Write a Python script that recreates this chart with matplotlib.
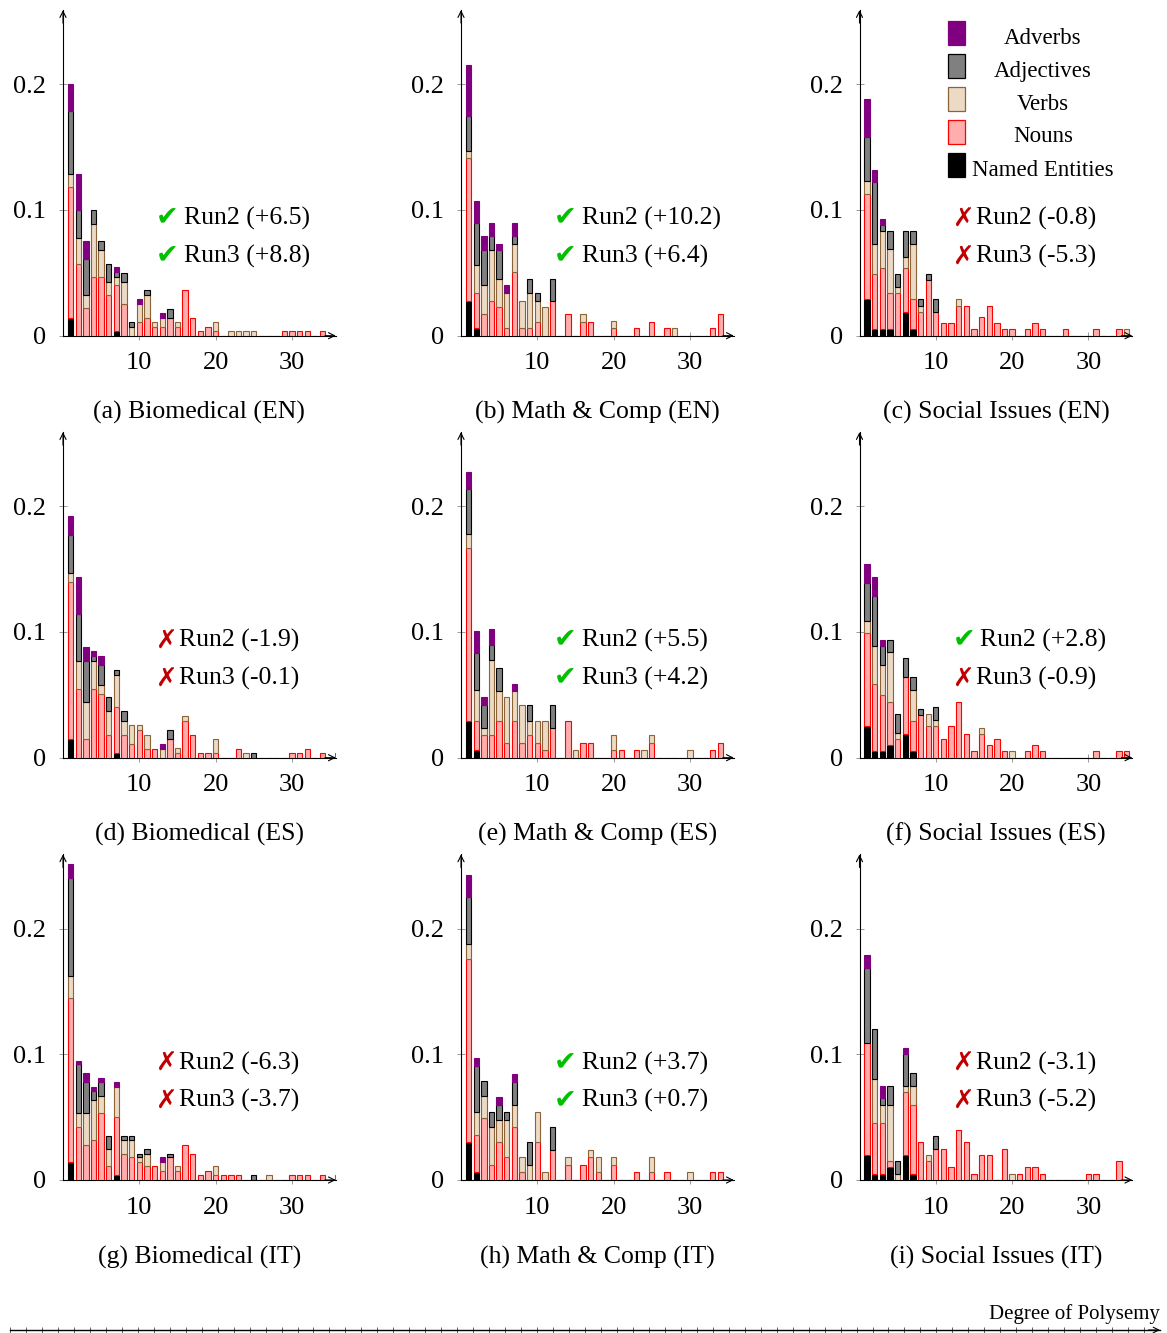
import matplotlib
matplotlib.use('Agg')
import matplotlib.pyplot as plt
from matplotlib.patches import Rectangle
import numpy as np

plt.rcParams['font.family'] = ['Liberation Serif', 'DejaVu Sans']

# ---------------- data ----------------
degrees = list(range(1, 37))
categories = ['Named Entities', 'Nouns', 'Verbs', 'Adjectives', 'Adverbs']
legend_order = ['Adverbs', 'Adjectives', 'Verbs', 'Nouns', 'Named Entities']

captions = ['(a) Biomedical (EN)', '(b) Math & Comp (EN)', '(c) Social Issues (EN)',
            '(d) Biomedical (ES)', '(e) Math & Comp (ES)', '(f) Social Issues (ES)',
            '(g) Biomedical (IT)', '(h) Math & Comp (IT)', '(i) Social Issues (IT)']
run2_delta = [6.5, 10.2, -0.8, -1.9, 5.5, 2.8, -6.3, 3.7, -3.1]
run3_delta = [8.8, 6.4, -5.3, -0.1, 4.2, -0.9, -3.7, 0.7, -5.2]

# (a) Biomedical EN
bio_en_ne = {1: .014, 7: .004}
bio_en_noun = {1: .104, 2: .057, 3: .022, 4: .047, 5: .047, 6: .032, 7: .036, 8: .025, 10: .011, 11: .014,
               12: .007, 13: .007, 14: .014, 15: .007, 16: .036, 17: .014, 18: .004, 19: .007, 20: .004,
               29: .004, 30: .004, 31: .004, 32: .004, 34: .004}
bio_en_verb = {1: .011, 2: .021, 3: .010, 4: .042, 5: .021, 6: .011, 7: .007, 8: .018, 9: .007, 10: .014,
               11: .018, 12: .004, 13: .007, 15: .004, 20: .007, 22: .004, 23: .004, 24: .004, 25: .004}
bio_en_adj = {1: .050, 2: .022, 3: .029, 4: .011, 5: .007, 6: .014, 7: .004, 8: .007, 9: .004, 11: .004, 14: .007}
bio_en_adv = {1: .021, 2: .029, 3: .014, 7: .004, 10: .004, 13: .004}

# (b) Math & Comp EN
math_en_ne = {1: .028, 2: .006}
math_en_noun = {1: .113, 2: .028, 3: .017, 4: .028, 5: .023, 6: .006, 7: .051, 8: .006, 9: .006, 10: .011,
                12: .028, 14: .017, 16: .011, 17: .011, 20: .006, 23: .006, 25: .011, 27: .006, 33: .006, 34: .017}
math_en_verb = {1: .006, 2: .022, 3: .023, 4: .040, 5: .022, 6: .028, 7: .022, 8: .022, 9: .028, 10: .017,
                11: .023, 16: .006, 20: .006, 28: .006}
math_en_adj = {1: .028, 2: .034, 3: .028, 4: .011, 5: .023, 7: .006, 9: .011, 10: .006, 12: .017}
math_en_adv = {1: .040, 2: .017, 3: .011, 4: .011, 5: .005, 6: .006, 7: .011}

# (c) Social Issues EN
soc_en_ne = {1: .029, 2: .005, 3: .005, 4: .005, 6: .019, 7: .005}
soc_en_noun = {1: .084, 2: .044, 3: .049, 4: .029, 5: .034, 6: .035, 7: .024, 8: .019, 9: .044, 10: .019,
               11: .010, 12: .010, 13: .024, 14: .024, 15: .005, 16: .015, 17: .024, 18: .010, 19: .005,
               20: .005, 22: .005, 23: .010, 24: .005, 27: .005, 31: .005, 34: .005}
soc_en_verb = {1: .010, 2: .024, 3: .029, 4: .035, 5: .005, 6: .009, 7: .044, 8: .005, 13: .005, 35: .005}
soc_en_adj = {1: .035, 2: .049, 3: .005, 4: .014, 5: .010, 6: .020, 7: .010, 8: .005, 9: .005, 10: .010}
soc_en_adv = {1: .030, 2: .010, 3: .005}

# (d) Biomedical ES
bio_es_ne = {1: .015, 7: .004}
bio_es_noun = {1: .125, 2: .055, 3: .015, 4: .055, 5: .051, 6: .018, 7: .036, 8: .018, 9: .011, 10: .022,
               11: .007, 12: .007, 14: .015, 15: .004, 16: .029, 17: .018, 18: .004, 19: .004, 20: .004,
               23: .007, 30: .004, 31: .004, 32: .007, 34: .004}
bio_es_verb = {1: .007, 2: .022, 3: .029, 4: .022, 5: .007, 6: .019, 7: .026, 8: .011, 9: .015, 10: .004,
               11: .011, 13: .007, 15: .004, 16: .004, 20: .011, 24: .004, 36: .004}
bio_es_adj = {1: .030, 2: .037, 3: .033, 4: .004, 5: .016, 6: .011, 7: .004, 8: .008, 14: .007, 25: .004}
bio_es_adv = {1: .015, 2: .030, 3: .011, 4: .004, 5: .007, 13: .004}

# (e) Math & Comp ES
math_es_ne = {1: .029, 2: .006}
math_es_noun = {1: .138, 2: .023, 3: .018, 4: .018, 5: .029, 6: .012, 7: .029, 8: .012, 9: .018, 10: .012,
                11: .006, 12: .024, 14: .029, 16: .012, 17: .012, 20: .006, 21: .006, 23: .006, 25: .012,
                33: .006, 34: .012}
math_es_verb = {1: .011, 2: .025, 3: .006, 4: .060, 5: .024, 6: .036, 7: .024, 8: .030, 9: .011, 10: .017,
                11: .023, 15: .006, 20: .012, 24: .006, 25: .006, 30: .006}
math_es_adj = {1: .036, 2: .029, 3: .018, 4: .012, 5: .018, 9: .013, 12: .018}
math_es_adv = {1: .013, 2: .018, 3: .006, 4: .012, 7: .006}

# (f) Social Issues ES
soc_es_ne = {1: .025, 2: .005, 3: .005, 4: .010, 6: .019, 7: .005}
soc_es_noun = {1: .074, 2: .054, 3: .045, 4: .034, 5: .015, 6: .045, 7: .024, 8: .034, 9: .025, 10: .025,
               11: .015, 12: .025, 13: .044, 14: .019, 15: .005, 16: .019, 17: .010, 18: .015, 19: .005,
               22: .005, 23: .010, 24: .005, 31: .005, 34: .005, 35: .005}
soc_es_verb = {1: .010, 2: .030, 3: .024, 4: .040, 5: .005, 7: .025, 9: .010, 10: .005, 16: .005, 20: .005}
soc_es_adj = {1: .030, 2: .040, 3: .015, 4: .010, 5: .015, 6: .015, 7: .010, 8: .005, 10: .010}
soc_es_adv = {1: .015, 2: .015, 3: .005}

# (g) Biomedical IT
bio_it_ne = {1: .014, 7: .004}
bio_it_noun = {1: .131, 2: .042, 3: .028, 4: .032, 5: .053, 6: .011, 7: .046, 8: .021, 9: .018, 10: .014,
               11: .011, 12: .011, 13: .007, 14: .018, 15: .007, 16: .028, 17: .021, 18: .004, 19: .007,
               20: .004, 21: .004, 22: .004, 23: .004, 30: .004, 31: .004, 32: .004, 34: .004}
bio_it_verb = {1: .017, 2: .011, 3: .025, 4: .032, 5: .014, 6: .014, 7: .024, 8: .011, 9: .014, 10: .004,
               11: .010, 13: .007, 15: .004, 20: .007, 27: .004, 36: .004}
bio_it_adj = {1: .078, 2: .039, 3: .025, 4: .007, 5: .011, 6: .010, 8: .003, 9: .003, 10: .003, 11: .004,
              14: .003, 25: .004}
bio_it_adv = {1: .011, 2: .003, 3: .007, 4: .003, 5: .003, 7: .004, 13: .004}

# (h) Math & Comp IT
math_it_ne = {1: .030, 2: .006}
math_it_noun = {1: .146, 2: .030, 3: .049, 4: .012, 5: .030, 6: .018, 7: .042, 8: .006, 10: .030, 12: .024,
                14: .012, 16: .012, 17: .018, 18: .006, 20: .012, 23: .006, 25: .006, 27: .006, 33: .006, 34: .006}
math_it_verb = {1: .012, 2: .018, 3: .018, 4: .030, 5: .018, 6: .030, 7: .018, 8: .012, 9: .012, 10: .024,
                11: .006, 14: .006, 17: .006, 18: .012, 20: .006, 25: .012, 30: .006}
math_it_adj = {1: .037, 2: .037, 3: .012, 4: .012, 5: .012, 6: .006, 7: .018, 9: .018, 12: .018}
math_it_adv = {1: .018, 2: .006, 5: .006, 7: .006}

# (i) Social Issues IT
soc_it_ne = {1: .020, 2: .005, 3: .005, 4: .010, 6: .020, 7: .005}
soc_it_noun = {1: .089, 2: .040, 3: .040, 4: .005, 6: .050, 7: .055, 8: .030, 9: .015, 10: .025, 11: .025,
               12: .010, 13: .040, 14: .030, 15: .005, 16: .020, 17: .020, 19: .025, 21: .005, 22: .010,
               23: .010, 24: .005, 30: .005, 31: .005, 34: .015}
soc_it_verb = {2: .035, 3: .015, 4: .045, 5: .005, 6: .005, 7: .015, 9: .005, 20: .005}
soc_it_adj = {1: .060, 2: .040, 3: .005, 4: .015, 5: .010, 6: .025, 7: .010, 10: .010}
soc_it_adv = {1: .010, 3: .010, 6: .005}

panels = [
    [bio_en_ne, bio_en_noun, bio_en_verb, bio_en_adj, bio_en_adv],
    [math_en_ne, math_en_noun, math_en_verb, math_en_adj, math_en_adv],
    [soc_en_ne, soc_en_noun, soc_en_verb, soc_en_adj, soc_en_adv],
    [bio_es_ne, bio_es_noun, bio_es_verb, bio_es_adj, bio_es_adv],
    [math_es_ne, math_es_noun, math_es_verb, math_es_adj, math_es_adv],
    [soc_es_ne, soc_es_noun, soc_es_verb, soc_es_adj, soc_es_adv],
    [bio_it_ne, bio_it_noun, bio_it_verb, bio_it_adj, bio_it_adv],
    [math_it_ne, math_it_noun, math_it_verb, math_it_adj, math_it_adv],
    [soc_it_ne, soc_it_noun, soc_it_verb, soc_it_adj, soc_it_adv],
]

# ---------------- style ----------------
fills = {'Named Entities': '#000000', 'Nouns': '#ffadad', 'Verbs': '#ecdac5',
         'Adjectives': '#808080', 'Adverbs': '#800080'}
edges = {'Named Entities': '#000000', 'Nouns': '#ff0000', 'Verbs': '#8c6239',
         'Adjectives': '#000000', 'Adverbs': '#800080'}
GREEN = '#00c000'
RED = '#c00000'

W, H = 1167, 1333
fig = plt.figure(figsize=(W / 100, H / 100), dpi=100)

col_left = [63, 461, 859.5]
row_zero = [335.7, 757.7, 1180.0]
ax_w, ax_h = 272.8, 325.6
XMAX, YMAX = 35.75, 0.259


def fx(px):
    return px / W


def fy(py):
    return 1 - py / H


for i, data in enumerate(panels):
    r, c = divmod(i, 3)
    ax = fig.add_axes([fx(col_left[c]), fy(row_zero[r]), ax_w / W, ax_h / H])
    bottom = np.zeros(len(degrees))
    x = np.array(degrees)
    for cat, d in zip(categories, data):
        vals = np.array([d.get(k, 0.0) for k in degrees])
        if cat == 'Nouns':
            mask = (vals > 0) | (bottom == 0)
        else:
            mask = vals > 0
        ax.bar(x[mask], vals[mask], bottom=bottom[mask], width=0.7,
               color=fills[cat], edgecolor=edges[cat], linewidth=0.8, zorder=3)
        bottom = bottom + vals
    ax.set_xlim(0, XMAX)
    ax.set_ylim(0, YMAX)
    ax.set_xticks([10, 20, 30])
    ax.set_xticklabels(['10', '20', '30'])
    ax.set_yticks([0, 0.1, 0.2])
    ax.set_yticklabels(['0', '0.1', '0.2'])
    ax.tick_params(axis='both', direction='inout', length=6, width=0.6,
                   color='#8a8a8a', labelsize=19)
    ax.tick_params(axis='x', pad=9)
    ax.tick_params(axis='y', pad=9)
    for s in ['top', 'right']:
        ax.spines[s].set_visible(False)
    for s in ['left', 'bottom']:
        ax.spines[s].set_linewidth(0.8)
        ax.spines[s].set_color('black')
    ax.patch.set_visible(False)
    ax.annotate('', xy=(0, 1.0), xytext=(0, 0.96), xycoords='axes fraction',
                arrowprops=dict(arrowstyle='->', color='black', lw=0.8,
                                shrinkA=0, shrinkB=0, mutation_scale=11), annotation_clip=False)
    ax.annotate('', xy=(1.0, 0), xytext=(0.96, 0), xycoords='axes fraction',
                arrowprops=dict(arrowstyle='->', color='black', lw=0.8,
                                shrinkA=0, shrinkB=0, mutation_scale=11), annotation_clip=False)

    # run annotations
    for label, delta, yv in [('Run2', run2_delta[i], 0.093), ('Run3', run3_delta[i], 0.063)]:
        good = delta > 0
        mark = '\u2714' if good else '\u2717'
        ax.text(12.2, yv, mark, color=GREEN if good else RED, fontsize=19.5 if good else 18.5,
                family='DejaVu Sans', ha='left', va='center', zorder=5)
        sign = '+' if delta > 0 else '-'
        ax.text(15.85 if good else 15.25, yv, f'{label} ({sign}{abs(delta):.1f})',
                fontsize=18.5, ha='left', va='center', zorder=5)

    # caption
    fig.text(fx(col_left[c] + ax_w / 2), fy(row_zero[r] + 77), captions[i],
             ha='center', va='center', fontsize=18.5)

# legend (top right panel)
leg_top = [21, 54, 87, 120, 153]
for name, top in zip(legend_order, leg_top):
    fig.add_artist(Rectangle((fx(948), fy(top + 24)), 17 / W, 24 / H, transform=fig.transFigure,
                             facecolor=fills[name], edgecolor=edges[name], linewidth=0.9))
    fig.text(fx(1043), fy(top + 17), name, ha='center', va='center', fontsize=16.5)

# bottom shared axis
axb = fig.add_axes([fx(10), fy(1330), 1150 / W, 0.0005])
axb.set_xlim(0, 72)
axb.set_xticks(np.arange(0, 72))
axb.set_xticklabels([])
axb.set_yticks([])
axb.tick_params(axis='x', direction='inout', length=4, width=0.6, color='#444444')
for s in ['top', 'right', 'left']:
    axb.spines[s].set_visible(False)
axb.spines['bottom'].set_linewidth(1.0)
axb.patch.set_visible(False)
axb.annotate('', xy=(1.0, 0), xytext=(0.99, 0), xycoords='axes fraction',
             arrowprops=dict(arrowstyle='->', color='black', lw=0.8,
                             shrinkA=0, shrinkB=0, mutation_scale=10), annotation_clip=False)
fig.text(fx(1160), fy(1314), 'Degree of Polysemy', ha='right', va='center', fontsize=15)

fig.savefig('out.png', dpi=100)
